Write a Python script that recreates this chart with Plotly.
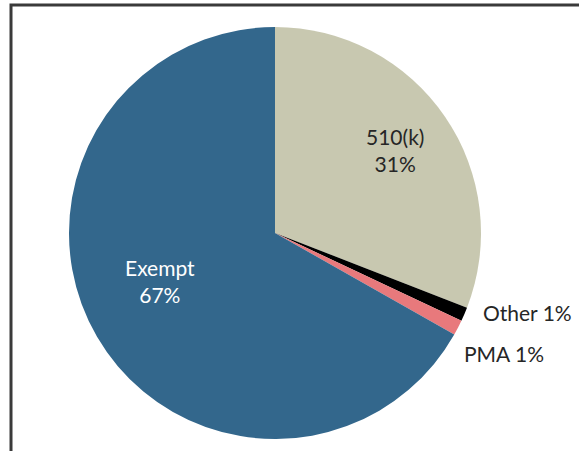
import plotly.graph_objects as go

categories = ["510(k)", "Other", "PMA", "Exempt"]
values = [30.9, 1.1, 1.2, 66.8]
pct_labels = ["31%", "1%", "1%", "67%"]
colors = ["#C8C8B0", "#000000", "#E8797C", "#33678C"]

W, H = 579, 451
cx, cy, r = 275, 233, 206

fig = go.Figure(go.Pie(
    labels=categories, values=values, sort=False, direction="clockwise",
    rotation=0, textinfo="none", hoverinfo="label+percent",
    marker=dict(colors=colors, line=dict(width=0)),
    domain=dict(x=[(cx - r) / W, (cx + r) / W], y=[1 - (cy + r) / H, 1 - (cy - r) / H]),
    showlegend=False,
))

font = "Lato, Open Sans, sans-serif"
anns = [
    (f"{categories[0]}<br>{pct_labels[0]}", 395, 150, "#262626"),
    (f"{categories[3]}<br>{pct_labels[3]}", 160, 281, "white"),
    (f"{categories[1]} {pct_labels[1]}", 527, 312, "#262626"),
    (f"{categories[2]} {pct_labels[2]}", 504, 353, "#262626"),
]
for t, x, y, c in anns:
    fig.add_annotation(text=t, x=x / W, y=1 - y / H, xref="paper", yref="paper",
                       showarrow=False, font=dict(size=21, color=c, family=font),
                       xanchor="center", yanchor="middle")

fig.add_shape(type="rect", xref="paper", yref="paper",
              x0=11 / W, x1=1.05, y0=-0.05, y1=1 - 5 / H,
              line=dict(color="#3a3a3a", width=3))

fig.update_layout(width=W, height=H, margin=dict(l=0, r=0, t=0, b=0),
                  paper_bgcolor="white", plot_bgcolor="white")
fig.write_html("out.html", config={"displayModeBar": False},
               post_script="document.body.style.margin='0';document.body.style.overflow='hidden';")
